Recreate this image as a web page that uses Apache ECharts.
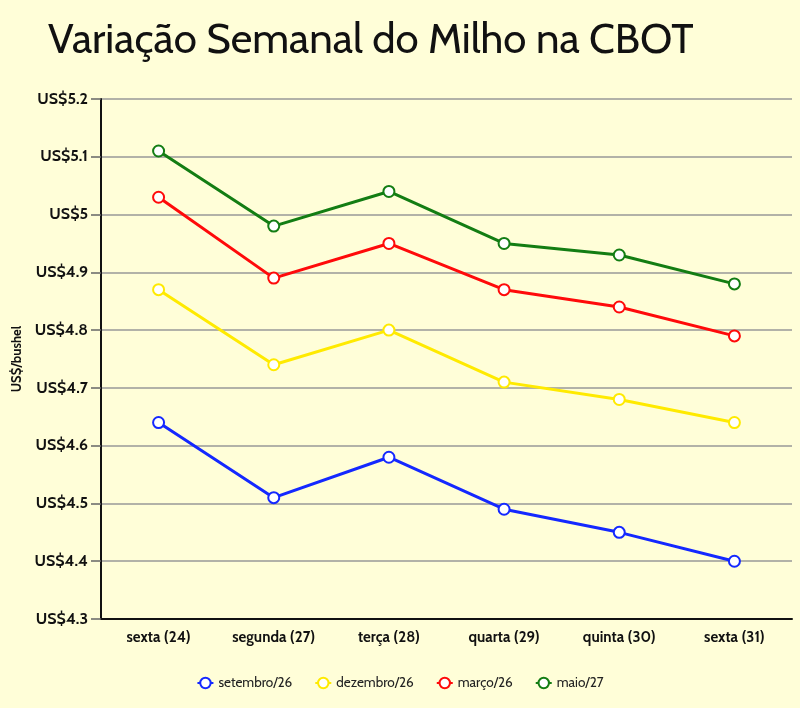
<!DOCTYPE html>
<html>
<head>
<meta charset="utf-8">
<script src="https://cdn.jsdelivr.net/npm/echarts@6/dist/echarts.min.js"></script>
<style>
  html, body { margin: 0; padding: 0; background: #FFFED8; }
  #chart { width: 800px; height: 708px; }
</style>
</head>
<body>
<div id="chart"></div>
<script>
const days = ['sexta (24)', 'segunda (27)', 'terça (28)', 'quarta (29)', 'quinta (30)', 'sexta (31)']
const setembro26 = [4.64, 4.51, 4.58, 4.49, 4.45, 4.40]
const dezembro26 = [4.87, 4.74, 4.80, 4.71, 4.68, 4.64]
const marco26 = [5.03, 4.89, 4.95, 4.87, 4.84, 4.79]
const maio27 = [5.11, 4.98, 5.04, 4.95, 4.93, 4.88]

const font = 'Cabin, "Open Sans", "Noto Sans", sans-serif'

function serie(name, data, color) {
  return {
    name,
    type: 'line',
    data,
    symbol: 'emptyCircle',
    symbolSize: 11,
    lineStyle: { width: 3, color },
    itemStyle: { color, borderWidth: 3 },
  }
}

const chart = echarts.init(document.getElementById('chart'))
chart.setOption({
  backgroundColor: '#FFFED8',
  animation: false,
  textStyle: { fontFamily: font },
  title: {
    text: 'Variação Semanal do Milho na CBOT',
    left: 43,
    top: 15,
    textStyle: { fontSize: 42, fontWeight: 'normal', color: '#111', fontFamily: font },
  },
  grid: { left: 101, right: 8, top: 99, bottom: 89 },
  legend: {
    bottom: 13,
    left: 'center',
    itemGap: 22,
    itemWidth: 16,
    itemHeight: 13,
    textStyle: { fontSize: 13.5, color: '#222' },
    data: ['setembro/26', 'dezembro/26', 'março/26', 'maio/27'],
  },
  xAxis: {
    type: 'category',
    data: days,
    axisLine: { lineStyle: { color: '#111', width: 2 } },
    axisTick: { alignWithLabel: true, length: 8, lineStyle: { color: '#555', width: 1.5 } },
    axisLabel: { fontSize: 15, fontWeight: 'bold', color: '#111', margin: 11 },
  },
  yAxis: {
    type: 'value',
    min: 4.3,
    max: 5.2,
    interval: 0.1,
    name: 'US$/bushel',
    nameLocation: 'middle',
    nameGap: 76,
    nameTextStyle: { fontSize: 13, fontWeight: 'bold', color: '#111' },
    axisLine: { show: true, lineStyle: { color: '#111', width: 2 } },
    axisTick: { show: true, length: 10, lineStyle: { color: '#666', width: 1.5 } },
    axisLabel: {
      fontSize: 16, fontWeight: 'bold', color: '#111', margin: 13,
      formatter: v => 'US$' + parseFloat(v.toFixed(2)),
    },
    splitLine: { lineStyle: { color: '#999', width: 1.5 } },
  },
  series: [
    serie('setembro/26', setembro26, '#1428ff'),
    serie('dezembro/26', dezembro26, '#ffea00'),
    serie('março/26', marco26, '#ff0a0a'),
    serie('maio/27', maio27, '#137d13'),
  ],
})
</script>
</body>
</html>
